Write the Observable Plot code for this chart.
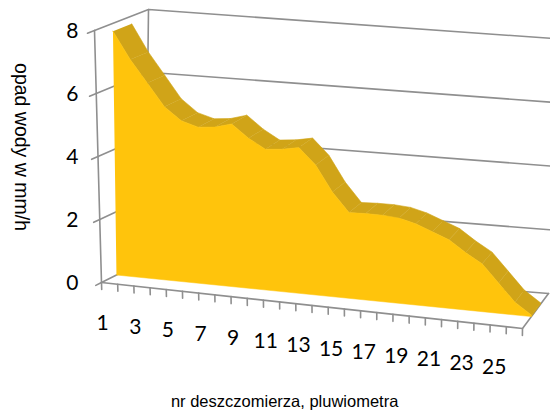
<!DOCTYPE html>
<html><head><meta charset="utf-8">
<script src="https://cdn.jsdelivr.net/npm/d3@7"></script>
<script src="https://cdn.jsdelivr.net/npm/@observablehq/plot@0.6"></script>
<style>body{margin:0;background:#fff}</style>
</head><body><div id="chart"></div>
<script>
// ---- data ----
const gauges = [1,2,3,4,5,6,7,8,9,10,11,12,13,14,15,16,17,18,19,20,21,22,23,24,25,26];
const rainfall = [7.75,6.9,6.2,5.5,5.1,4.95,5.0,5.15,4.75,4.45,4.5,4.6,4.1,3.3,2.7,2.72,2.72,2.68,2.55,2.35,2.15,1.8,1.5,0.95,0.4,0.05];
const yTicks = [0,2,4,6,8];
const xTickLabels = [1,3,5,7,9,11,13,15,17,19,21,23,25];
const yTitle = "opad wody w mm/h";
const xTitle = "nr deszczomierza, pluwiometra";

// ---- pseudo 3-D projection (Excel style box) ----
const W = 550, H = 418;
const nCat = gauges.length, yMax = 8;
const zf = 0.34, zb = 0.69;
const box = {
  f00:[101,282], f10:[522,328], f01:[94,30], f11:[526,72],
  b00:[145,260], b10:[548,293], b01:[148,9], b11:[552,38]
};
const lerp = (a,b,t)=>[a[0]+(b[0]-a[0])*t, a[1]+(b[1]-a[1])*t];
function proj(X, Y, Z) {
  const u = X/nCat, h = Y/yMax;
  const f = lerp(lerp(box.f00, box.f10, u), lerp(box.f01, box.f11, u), h);
  const b = lerp(lerp(box.b00, box.b10, u), lerp(box.b01, box.b11, u), h);
  const p = lerp(f, b, Z);
  return {x: p[0], y: p[1]};
}
const catX = (i) => nCat * i / (nCat - 1); // position of i-th gauge along the floor

// walls & gridlines
const grid = [];
yTicks.forEach((v,k) => {
  [proj(0,v,0), proj(0,v,1), proj(nCat,v,1)].forEach(p => grid.push({...p, id:"g"+k}));
});
[[proj(0,0,0), proj(0,yMax,0)], [proj(0,0,1), proj(0,yMax,1)],
 [proj(0,0,0), proj(nCat,0,0), proj(nCat,0,1)]].forEach((seg,k) =>
  seg.forEach(p => grid.push({...p, id:"e"+k})));

// tick marks
const ticks = [];
yTicks.forEach((v,k) => { ticks.push({...proj(0,v,-0.13), id:"y"+k}, {...proj(0,v,0), id:"y"+k}); });
d3.range(nCat+1).forEach(k => { ticks.push({...proj(k,0,0), id:"x"+k}, {...proj(k,-0.22,0), id:"x"+k}); });

// area: top band quads + front face
const band = [];
rainfall.forEach((v,i) => {
  if (i === rainfall.length-1) return;
  const w = rainfall[i+1];
  [proj(catX(i),v,zf), proj(catX(i+1),w,zf), proj(catX(i+1),w,zb), proj(catX(i),v,zb)]
    .forEach(p => band.push({...p, id:i}));
});
const last = rainfall.length-1;
[proj(catX(last),rainfall[last],zf), proj(catX(last),rainfall[last],zb), proj(catX(last),0,zb), proj(catX(last),0,zf)]
  .forEach(p => band.push({...p, id:"end"}));
const front = rainfall.map((v,i) => proj(catX(i), v, zf));
front.push(proj(catX(last),0,zf), proj(0,0,zf));

// labels
const yLab = yTicks.map(v => ({x: proj(0,yMax,0).x, y: proj(0,v,0).y, t:String(v)}));
const xLab = xTickLabels.map(c => ({...proj((c-1)*1.012,-1.3,0), t:String(c)}));
const yTitlePos = [{x: 21, y: proj(0,4.3,0).y, t: yTitle}];
const xTitlePos = [{x: proj(nCat*0.435,0,0).x, y: 401, t: xTitle}];

const plot = Plot.plot({
  width: W, height: H, margin: 0,
  x: {type:"linear", domain:[0,W], range:[0,W], axis:null},
  y: {type:"linear", domain:[0,H], range:[0,H], axis:null},
  style: {background:"#fff"},
  marks: [
    Plot.line(grid, {x:"x", y:"y", z:"id", stroke:"#8f8f8f", strokeWidth:1.6}),
    Plot.line(ticks, {x:"x", y:"y", z:"id", stroke:"#8f8f8f", strokeWidth:1.6}),
    Plot.line(band, {x:"x", y:"y", z:"id", fill:"#D0A418", stroke:"#D0A418", strokeWidth:0.6}),
    Plot.line(front, {x:"x", y:"y", fill:"#FFC40C", stroke:"#FFC40C", strokeWidth:0.5}),
    Plot.text(yLab, {x:"x", y:"y", text:"t", textAnchor:"end", dx:-16, dy:1, fontSize:21, fontFamily:"Lato", fill:"#000"}),
    Plot.text(xLab, {x:"x", y:"y", text:"t", fontSize:21, fontFamily:"Lato", fill:"#000"}),
    Plot.text(xTitlePos, {x:"x", y:"y", text:"t", fontSize:16.5, fontFamily:"Liberation Sans", fill:"#000"}),
    Plot.text(yTitlePos, {x:"x", y:"y", text:"t", rotate:90, fontSize:19.5, fontFamily:"Liberation Sans", fill:"#000"})
  ]
});
document.getElementById("chart").appendChild(plot);
</script>
</body></html>
